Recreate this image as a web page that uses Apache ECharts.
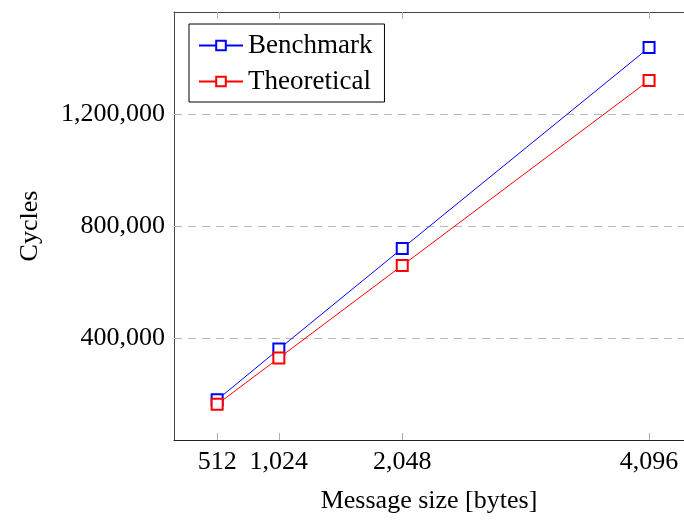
<!DOCTYPE html>
<html>
<head>
<meta charset="utf-8">
<script src="https://cdn.jsdelivr.net/npm/echarts@6/dist/echarts.min.js"></script>
<style>
  html, body { margin: 0; padding: 0; background: #fff; }
  #chart { width: 684px; height: 521px; }
</style>
</head>
<body>
<div id="chart"></div>
<script>
// message sizes in bytes
var sizes = [512, 1024, 2048, 4096];
var benchmark = [181000, 362000, 721000, 1437000];
var theoretical = [165000, 330000, 660000, 1320000];
var yTicks = [400000, 800000, 1200000];

var font = 'Liberation Serif';

function fmt(v) {
  return String(v).replace(/\B(?=(\d{3})+(?!\d))/g, ',');
}

function pairs(xs, ys) {
  return xs.map(function (x, i) { return [x, ys[i]]; });
}

var chart = echarts.init(document.getElementById('chart'));

var frameTick = { show: true, inside: true, length: 7, lineStyle: { color: '#b0b0b0', width: 1 } };

chart.setOption({
  animation: false,
  grid: { left: 174, top: 12, right: 0, bottom: 81 },
  legend: {
    left: 189, top: 24,
    orient: 'vertical',
    backgroundColor: '#fff',
    borderColor: '#000', borderWidth: 1,
    padding: [8, 12, 7, 9],
    itemWidth: 44, itemHeight: 12, itemGap: 9,
    textStyle: { fontFamily: font, fontSize: 27, color: '#000' },
    data: ['Benchmark', 'Theoretical']
  },
  xAxis: [{
    type: 'value',
    min: 154, max: 4386,
    name: 'Message size [bytes]',
    nameLocation: 'middle', nameGap: 48,
    nameTextStyle: { fontFamily: font, fontSize: 26, color: '#000' },
    axisLine: { lineStyle: { color: '#222', width: 1 } },
    axisTick: Object.assign({ customValues: sizes }, frameTick),
    axisLabel: { customValues: sizes, formatter: fmt, margin: 9, fontFamily: font, fontSize: 26, color: '#000' },
    splitLine: { show: false }
  }, {
    type: 'value', position: 'top',
    min: 154, max: 4386,
    axisLine: { show: true, lineStyle: { color: '#444', width: 1 } },
    axisTick: Object.assign({ customValues: sizes }, frameTick),
    axisLabel: { show: false },
    splitLine: { show: false }
  }],
  yAxis: [{
    type: 'value',
    min: 37800, max: 1564000,
    name: 'Cycles',
    nameLocation: 'middle', nameGap: 131,
    nameTextStyle: { fontFamily: font, fontSize: 26, color: '#000' },
    axisLine: { show: true, lineStyle: { color: '#444', width: 1 } },
    axisTick: Object.assign({ customValues: yTicks }, frameTick),
    axisLabel: { customValues: yTicks, formatter: fmt, margin: 9, fontFamily: font, fontSize: 26, color: '#000' },
    splitLine: { show: true, lineStyle: { color: '#b8b8b8', type: [8, 6], width: 1 } }
  }],
  series: [{
    name: 'Benchmark',
    type: 'line',
    data: pairs(sizes, benchmark),
    symbol: 'emptyRect', symbolSize: 11,
    lineStyle: { color: '#0000ff', width: 1 },
    itemStyle: { color: '#0000ff', borderColor: '#0000ff', borderWidth: 1 }
  }, {
    name: 'Theoretical',
    type: 'line',
    data: pairs(sizes, theoretical),
    symbol: 'emptyRect', symbolSize: 11,
    lineStyle: { color: '#ff0000', width: 1 },
    itemStyle: { color: '#ff0000', borderColor: '#ff0000', borderWidth: 1 }
  }]
});
</script>
</body>
</html>
